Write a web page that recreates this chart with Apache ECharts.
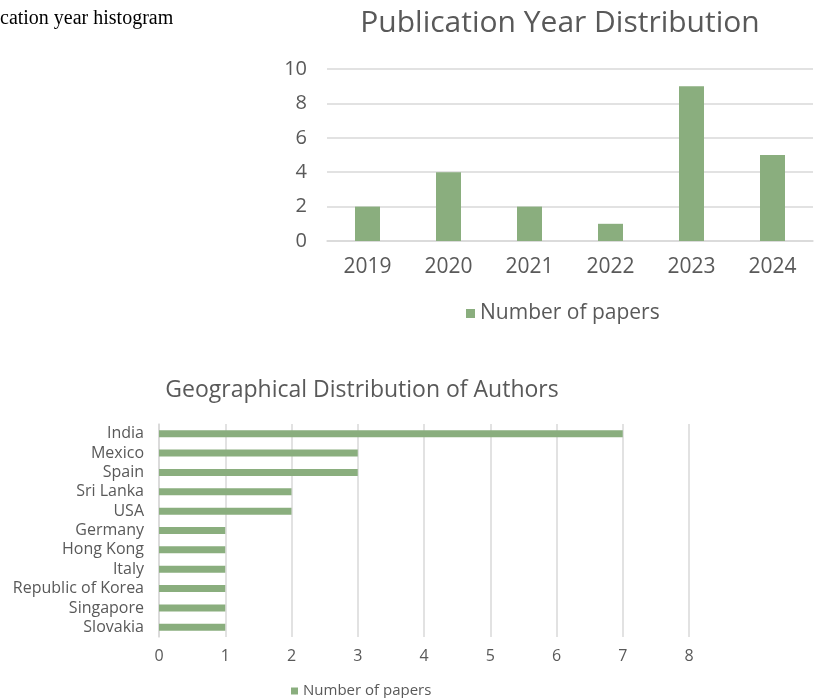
<!DOCTYPE html>
<html>
<head>
<meta charset="utf-8">
<script src="https://cdn.jsdelivr.net/npm/echarts@6/dist/echarts.min.js"></script>
<style>html,body{margin:0;padding:0;background:#fff;}#c{width:815px;height:698px;}</style>
</head>
<body>
<div id="c"></div>
<script>
const years = ['2019', '2020', '2021', '2022', '2023', '2024'];
const yearCounts = [2, 4, 2, 1, 9, 5];
const yearTicks = [0, 2, 4, 6, 8, 10];
const countries = ['India', 'Mexico', 'Spain', 'Sri Lanka', 'USA', 'Germany', 'Hong Kong', 'Italy', 'Republic of Korea', 'Singapore', 'Slovakia'];
const countryCounts = [7, 3, 3, 2, 2, 1, 1, 1, 1, 1, 1];
const countryTicks = [0, 1, 2, 3, 4, 5, 6, 7, 8];
const seriesName = 'Number of papers';

const FONT = 'Open Sans';
const TXT = '#595959';
const GRIDC = '#d9d9d9';
const BAR = '#8aae7e';

const chart = echarts.init(document.getElementById('c'), null, {renderer: 'canvas'});
chart.setOption({
  animation: false,
  textStyle: {fontFamily: FONT},
  graphic: [{
    type: 'text', left: 0, top: 9,
    style: {text: 'cation year histogram', font: '20px "Liberation Serif"', fill: '#000'}
  }],
  title: [
    {text: 'Publication Year Distribution', left: 555, top: 3, textAlign: 'center',
     textStyle: {fontFamily: FONT, fontSize: 30, fontWeight: 'normal', color: TXT}},
    {text: 'Geographical Distribution of Authors', left: 357, top: 374, textAlign: 'center',
     textStyle: {fontFamily: FONT, fontSize: 23, fontWeight: 'normal', color: TXT}}
  ],
  legend: [
    {data: [seriesName], left: 461, top: 298, icon: 'rect', itemWidth: 9, itemHeight: 9, itemGap: 5,
     textStyle: {fontFamily: FONT, fontSize: 21, color: TXT}, selectedMode: false},
    {data: [seriesName], left: 286, top: 677, icon: 'rect', itemWidth: 7, itemHeight: 7, itemGap: 4,
     textStyle: {fontFamily: FONT, fontSize: 15, color: TXT, lineHeight: 18}, selectedMode: false}
  ],
  grid: [
    {left: 327, width: 486, top: 69, height: 172},
    {left: 159, width: 530, top: 424, height: 213}
  ],
  xAxis: [
    {gridIndex: 0, type: 'category', data: years,
     axisLine: {lineStyle: {color: GRIDC, width: 1.5}}, axisTick: {show: false},
     axisLabel: {fontFamily: FONT, fontSize: 21, color: TXT, margin: 16}},
    {gridIndex: 1, type: 'value', min: 0, max: countryTicks[countryTicks.length - 1], interval: 1,
     axisLine: {show: false}, axisTick: {show: false},
     splitLine: {show: true, lineStyle: {color: GRIDC, width: 1.5}},
     axisLabel: {fontFamily: FONT, fontSize: 16, color: TXT, margin: 11}}
  ],
  yAxis: [
    {gridIndex: 0, type: 'value', min: 0, max: yearTicks[yearTicks.length - 1], interval: 2,
     axisLine: {show: false}, axisTick: {show: false},
     splitLine: {lineStyle: {color: GRIDC, width: 1.5}},
     axisLabel: {fontFamily: FONT, fontSize: 20, color: TXT, margin: 20}},
    {gridIndex: 1, type: 'category', data: countries, inverse: true,
     axisLine: {show: true, lineStyle: {color: GRIDC, width: 1.5}}, axisTick: {show: false},
     axisLabel: {fontFamily: FONT, fontSize: 16, lineHeight: 18, color: TXT, margin: 15, interval: 0, hideOverlap: false}}
  ],
  series: [
    {name: seriesName, type: 'bar', xAxisIndex: 0, yAxisIndex: 0, data: yearCounts,
     barWidth: 25, itemStyle: {color: BAR}},
    {name: seriesName, type: 'bar', xAxisIndex: 1, yAxisIndex: 1, data: countryCounts,
     barWidth: 7, itemStyle: {color: BAR}}
  ]
});
</script>
</body>
</html>
